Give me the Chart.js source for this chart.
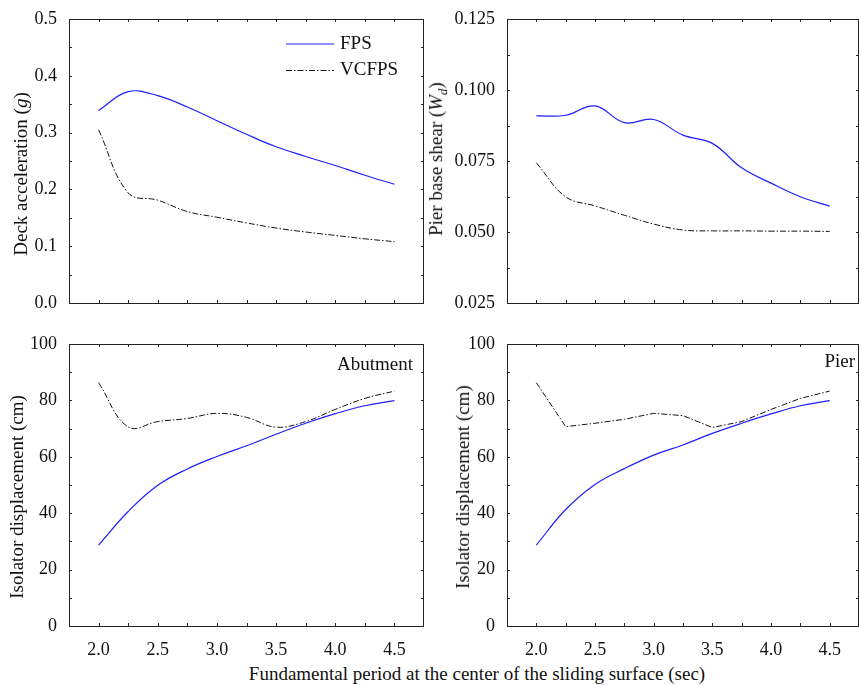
<!DOCTYPE html>
<html>
<head>
<meta charset="utf-8">
<script src="https://cdn.jsdelivr.net/npm/chart.js@4.4.1/dist/chart.umd.min.js"></script>
<style>
  body { margin: 0; background: #fff; }
  #wrap { position: relative; width: 859px; height: 685px; overflow: hidden; font-family: "Liberation Serif", "Times New Roman", serif; color: #111; }
  canvas { position: absolute; }
  .ytitle { position: absolute; white-space: nowrap; font-size: 19px; transform: translate(-50%, -50%) rotate(-90deg); }
  .xtitle { position: absolute; white-space: nowrap; font-size: 19px; transform: translate(-50%, -50%); }
</style>
</head>
<body>
<div id="wrap">
  <canvas id="c1" width="430" height="322" style="left:0;top:0"></canvas>
  <canvas id="c2" width="429" height="322" style="left:430px;top:0"></canvas>
  <canvas id="c3" width="430" height="340" style="left:0;top:322px"></canvas>
  <canvas id="c4" width="429" height="340" style="left:430px;top:322px"></canvas>
  <div class="ytitle" style="left:21px;top:174px">Deck acceleration (<i>g</i>)</div>
  <div class="ytitle" style="left:438px;top:159px">Pier base shear (<i>W<sub style="font-size:13px">d</sub></i>)</div>
  <div class="ytitle" style="left:17px;top:497px">Isolator displacement (cm)</div>
  <div class="ytitle" style="left:463px;top:487px">Isolator displacement (cm)</div>
  <div class="xtitle" style="left:477px;top:674px">Fundamental period at the center of the sliding surface (sec)</div>
</div>
<script>
// period values (sec)
const periods = [2.0, 2.25, 2.5, 2.75, 3.0, 3.25, 3.5, 3.75, 4.0, 4.25, 4.5];
const xTickVals = [2.0, 2.5, 3.0, 3.5, 4.0, 4.5];

// deck acceleration (g)
const accFPS = [0.339, 0.372, 0.365, 0.345, 0.321, 0.297, 0.275, 0.258, 0.242, 0.225, 0.209];
const accVCFPS = [0.305, 0.194, 0.181, 0.161, 0.151, 0.141, 0.132, 0.125, 0.119, 0.113, 0.108];

// pier base shear (Wd)
const shearFPS = [0.0909, 0.0911, 0.0944, 0.0885, 0.0896, 0.0841, 0.0812, 0.0726, 0.0672, 0.0624, 0.0591];
const shearVCFPS = [0.0744, 0.0624, 0.0592, 0.0559, 0.0528, 0.0507, 0.0504, 0.0504, 0.0503, 0.0503, 0.0502];

// isolator displacement (cm)
const abutFPS = [28.7, 40.6, 49.9, 55.7, 60.1, 63.9, 68.0, 71.9, 75.3, 78.1, 79.9];
const abutVCFPS = [86.3, 70.6, 72.5, 73.6, 75.4, 74.0, 70.5, 72.5, 76.8, 80.7, 83.3];
const pierFPS = [28.7, 41.3, 50.2, 55.8, 60.6, 64.2, 68.3, 71.9, 75.2, 78.1, 79.9];
const pierVCFPS = [86.3, 70.7, 71.9, 73.3, 75.4, 74.6, 70.4, 72.5, 76.8, 80.7, 83.3];

const BLUE = 'rgb(30,30,255)';
const DASHDOT = [6, 2, 1.5, 2];
const FONT = "'Liberation Serif', serif";
Chart.defaults.font.family = FONT;

const pts = ys => periods.map((x, i) => ({x: x, y: ys[i]}));

const fps = (ys, t) => ({
    label: 'FPS', data: pts(ys), borderColor: BLUE, borderWidth: 1.2,
    pointRadius: 0, tension: t, fill: false
});
const vcfps = (ys, t) => ({
    label: 'VCFPS', data: pts(ys), borderColor: '#111', borderWidth: 1,
    borderDash: DASHDOT, pointRadius: 0, tension: t, fill: false
});

// frame with inward ticks on all four sides
const framePlugin = {
    id: 'frame',
    afterDraw(chart) {
        const {ctx, chartArea: a, scales} = chart;
        const ys = chart.options.scales.y;
        ctx.save();
        ctx.strokeStyle = '#222';
        ctx.lineWidth = 1;
        ctx.strokeRect(Math.round(a.left) + 0.5, Math.round(a.top) + 0.5,
            Math.round(a.right - a.left) - 1, Math.round(a.bottom - a.top));
        ctx.beginPath();
        for (let v = 2.0; v <= 4.5001; v += 0.25) {
            const px = Math.round(scales.x.getPixelForValue(v)) + 0.5;
            ctx.moveTo(px, a.bottom); ctx.lineTo(px, a.bottom - 3);
            ctx.moveTo(px, a.top); ctx.lineTo(px, a.top + 3);
        }
        const half = ys.ticks.stepSize / 2;
        for (let v = ys.min; v <= ys.max + 1e-9; v += half) {
            const py = Math.round(scales.y.getPixelForValue(v)) + 0.5;
            ctx.moveTo(a.left, py); ctx.lineTo(a.left + 3, py);
            ctx.moveTo(a.right, py); ctx.lineTo(a.right - 3, py);
        }
        ctx.stroke();

        const extra = chart.options.plugins.frame || {};
        ctx.font = '19px ' + FONT;
        ctx.fillStyle = '#111';
        ctx.textBaseline = 'middle';
        if (extra.legend) {
            ctx.lineWidth = 1.2;
            ctx.strokeStyle = BLUE;
            ctx.beginPath(); ctx.moveTo(286, 44); ctx.lineTo(334, 44); ctx.stroke();
            ctx.lineWidth = 1;
            ctx.strokeStyle = '#111';
            ctx.setLineDash(DASHDOT);
            ctx.beginPath(); ctx.moveTo(286, 70.5); ctx.lineTo(334, 70.5); ctx.stroke();
            ctx.setLineDash([]);
            ctx.fillText('FPS', 340, 44);
            ctx.fillText('VCFPS', 340, 70);
        }
        if (extra.note) {
            ctx.textAlign = 'right';
            ctx.fillText(extra.note.text, extra.note.x, extra.note.y);
        }
        ctx.restore();
    }
};

function makeChart(id, cfg) {
    return new Chart(document.getElementById(id), {
        type: 'line',
        data: {datasets: cfg.datasets},
        options: {
            responsive: false,
            animation: false,
            layout: {padding: {top: cfg.top, right: cfg.right, left: 0, bottom: 0}},
            plugins: {
                legend: {display: false},
                tooltip: {enabled: false},
                frame: {legend: cfg.legend, note: cfg.note}
            },
            scales: {
                x: {
                    type: 'linear', min: 1.75, max: 4.75,
                    grid: {display: false}, border: {display: false},
                    afterBuildTicks: s => { s.ticks = xTickVals.map(v => ({value: v})); },
                    afterFit: s => { s.height = cfg.xH; },
                    ticks: {
                        display: cfg.showX, padding: 5, color: '#111',
                        font: {family: FONT, size: 18},
                        maxRotation: 0, autoSkip: false,
                        callback: v => Number(v).toFixed(1)
                    }
                },
                y: {
                    min: cfg.ymin, max: cfg.ymax,
                    grid: {display: false}, border: {display: false},
                    afterFit: s => { s.width = cfg.yW; },
                    ticks: {
                        stepSize: cfg.ystep, padding: 4, color: '#111',
                        font: {family: FONT, size: 18},
                        callback: v => Number(v).toFixed(cfg.dec)
                    }
                }
            }
        },
        plugins: [framePlugin]
    });
}

function drawAll() {
    makeChart('c1', {
        datasets: [fps(accFPS, 0.4), vcfps(accVCFPS, 0.4)],
        top: 19, right: 6, yW: 69, xH: 19, showX: false,
        ymin: 0, ymax: 0.5, ystep: 0.1, dec: 1, legend: true
    });
    makeChart('c2', {
        datasets: [fps(shearFPS, 0.4), vcfps(shearVCFPS, 0.4)],
        top: 19, right: 0, yW: 77, xH: 19, showX: false,
        ymin: 0.025, ymax: 0.125, ystep: 0.025, dec: 3
    });
    makeChart('c3', {
        datasets: [fps(abutFPS, 0.4), vcfps(abutVCFPS, 0.4)],
        top: 22, right: 6, yW: 69, xH: 36, showX: true,
        ymin: 0, ymax: 100, ystep: 20, dec: 0,
        note: {text: 'Abutment', x: 413, y: 43}
    });
    makeChart('c4', {
        datasets: [fps(pierFPS, 0.4), vcfps(pierVCFPS, 0)],
        top: 22, right: 0, yW: 77, xH: 36, showX: true,
        ymin: 0, ymax: 100, ystep: 20, dec: 0,
        note: {text: 'Pier', x: 425, y: 40}
    });
}

// make sure the serif face is ready before the canvases draw text
if (document.fonts && document.fonts.load) {
    document.fonts.load('18px "Liberation Serif"').then(drawAll, drawAll);
} else {
    drawAll();
}
</script>
</body>
</html>
